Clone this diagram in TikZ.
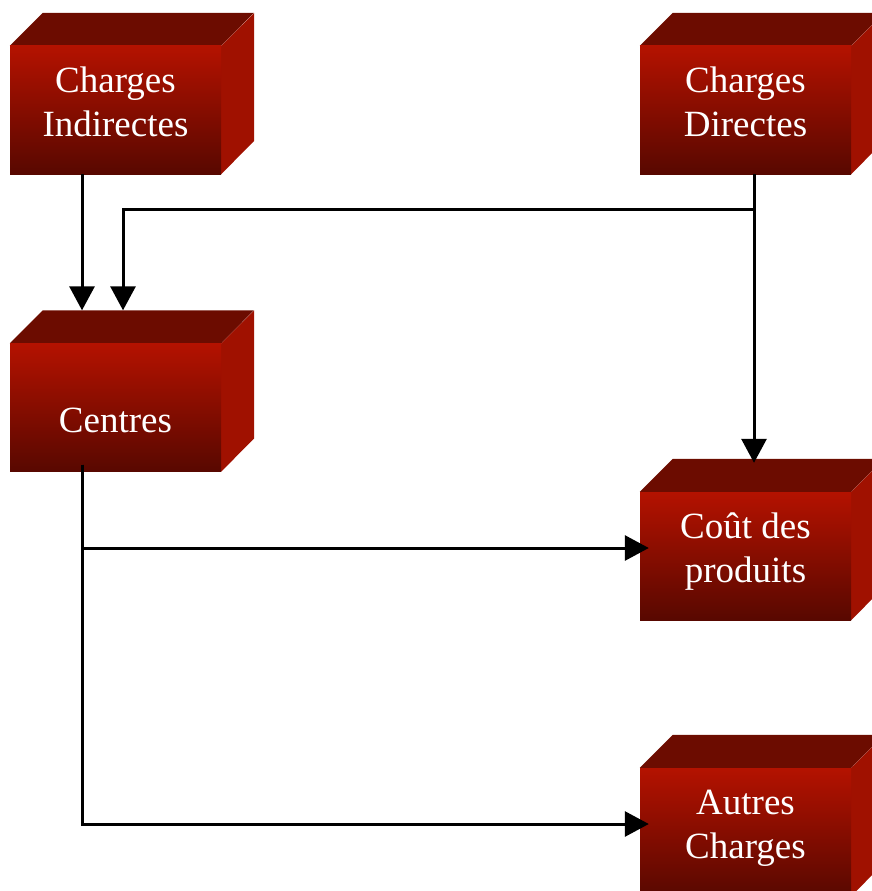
\documentclass[tikz,border=0pt]{standalone}
\usepackage{fontspec}
\setmainfont{Liberation Serif}
\usetikzlibrary{arrows.meta}
\definecolor{frontTop}{RGB}{180,18,0}
\definecolor{frontBot}{RGB}{88,8,0}
\definecolor{topFace}{RGB}{108,12,0}
\definecolor{sideFace}{RGB}{160,17,0}
\newcommand\boxtext[2]{\raisebox{#1}[\height][\depth]{\begin{tabular}{@{}c@{}}#2\end{tabular}}}
\begin{document}
\begin{tikzpicture}[x=1pt,y=-1pt,
  cube/.style={rectangle,inner sep=0pt,minimum width=211pt,minimum height=128pt,
    top color=frontTop,bottom color=frontBot,text=white,
    font=\fontsize{37}{44}\selectfont,
    append after command={
      \pgfextra{\fill[topFace] (\tikzlastnode.north west) -- ++(33,-33) -- ++(211,0)
        -- (\tikzlastnode.north east) -- cycle;
      \fill[sideFace] (\tikzlastnode.north east) -- ++(33,-33) -- ++(0,128)
        -- (\tikzlastnode.south east) -- cycle;}}},
  flow/.style={line width=3pt,-{Triangle[length=24pt,width=25pt]}}]
  \useasboundingbox (0,0) rectangle (872,891);
  \node[cube] (ind) at (115.5,110) {\boxtext{4pt}{Charges\\Indirectes}};
  \node[cube] (dir) at (745.5,110) {\boxtext{4pt}{Charges\\Directes}};
  \node[cube] (cen) at (115.5,407.5) {\boxtext{-16pt}{Centres}};
  \node[cube] (cout) at (745.5,556) {\boxtext{4pt}{Coût des\\produits}};
  \node[cube] (autres) at (745.5,832) {\boxtext{4pt}{Autres\\Charges}};
  \coordinate (split) at ([xshift=8.5pt,yshift=-35pt]dir.south);
  \draw[flow] ([xshift=-33.5pt]ind.south) -- ([xshift=-33.5pt,yshift=33pt]cen.north);
  \draw[flow,shorten >=-4pt] ([xshift=8.5pt]dir.south) -- ([xshift=8.5pt,yshift=33pt]cout.north);
  \draw[flow] (split) -| ([xshift=7.5pt,yshift=33pt]cen.north);
  \draw[flow,shorten >=-9pt] ([xshift=-33.5pt,yshift=7pt]cen.south) |- ([yshift=8pt]cout.west);
  \draw[flow,shorten >=-9pt] ([xshift=-33.5pt,yshift=7pt]cen.south) |- ([yshift=8pt]autres.west);
\end{tikzpicture}
\end{document}
